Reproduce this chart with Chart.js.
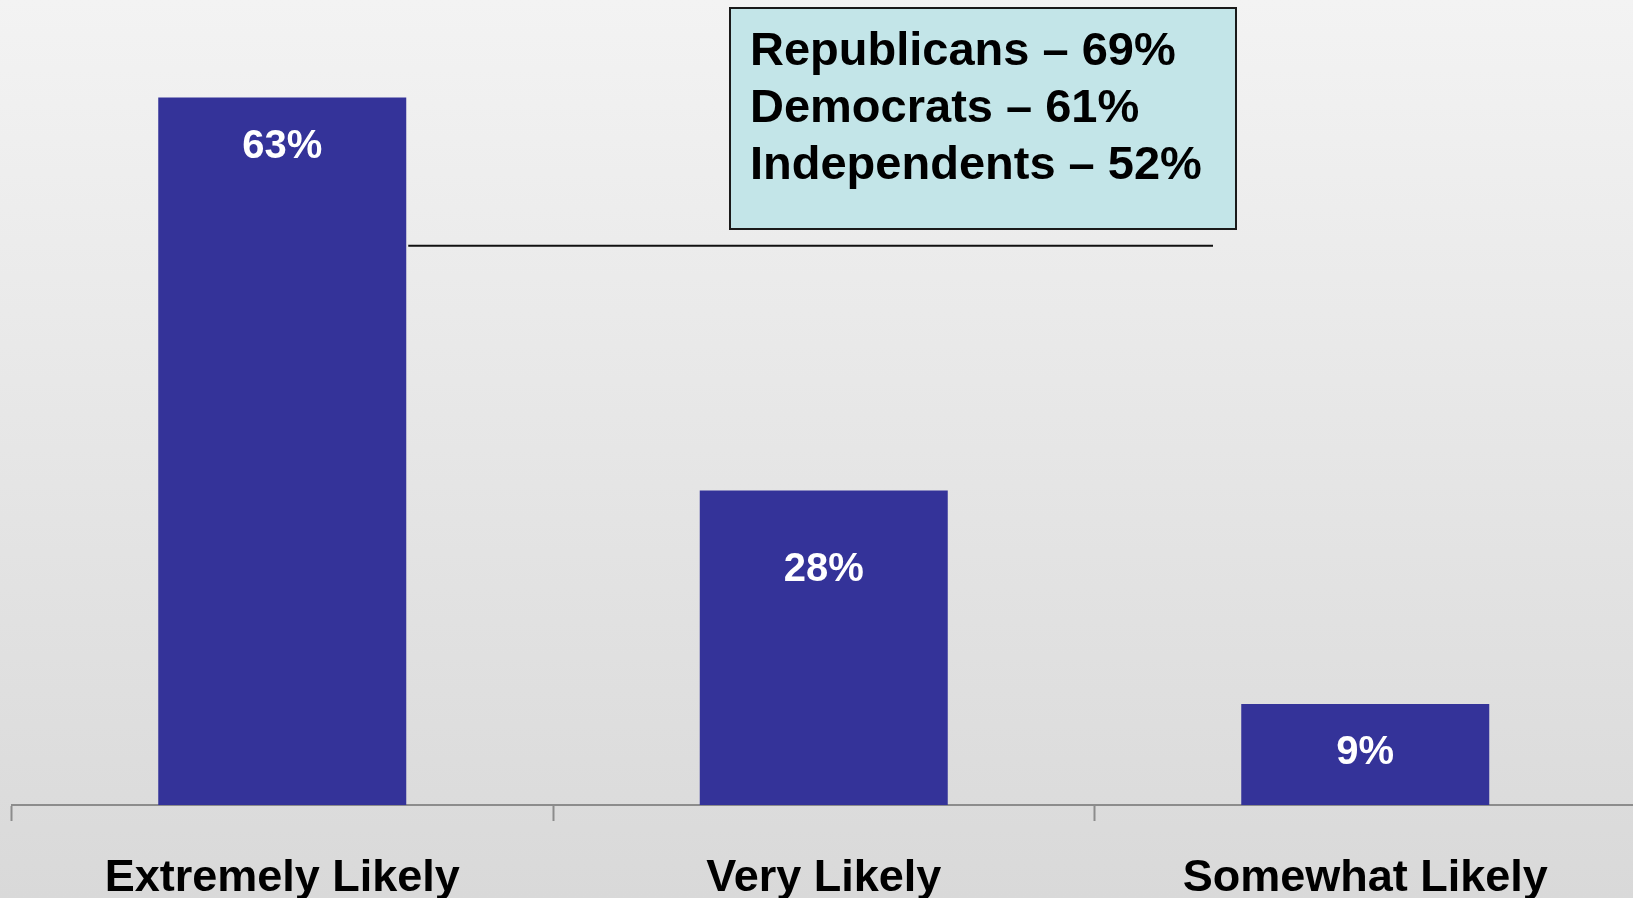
<!DOCTYPE html>
<html>
<head>
<meta charset="utf-8">
<script src="https://cdn.jsdelivr.net/npm/chart.js@4"></script>
<style>
  html, body { margin: 0; padding: 0; overflow: hidden; background: #e6e6e6; }
  #wrap { width: 1640px; height: 936px; }
</style>
</head>
<body>
<div id="wrap"><canvas id="likelyChart" width="1640" height="936"></canvas></div>
<script>
const categories = ['Extremely Likely', 'Very Likely', 'Somewhat Likely'];
const shares = [63, 28, 9];
const partyLines = ['Republicans \u2013 69%', 'Democrats \u2013 61%', 'Independents \u2013 52%'];

const barColor = '#343399';

// background: light grey fading darker toward the bottom
const backdrop = {
    id: 'backdrop',
    beforeDraw(chart) {
        const { ctx, width, height } = chart;
        const g = ctx.createLinearGradient(0, 0, 0, 898);
        g.addColorStop(0, '#f3f3f3');
        g.addColorStop(1, '#d9d9d9');
        ctx.save();
        ctx.fillStyle = g;
        ctx.fillRect(0, 0, width, height);
        ctx.restore();
    }
};

// white percentage labels inside the bars
const barLabels = {
    id: 'barLabels',
    afterDatasetsDraw(chart, args, opts) {
        const { ctx } = chart;
        const meta = chart.getDatasetMeta(0);
        ctx.save();
        ctx.fillStyle = '#ffffff';
        ctx.font = 'bold 40px "Liberation Sans", Arial, sans-serif';
        ctx.textAlign = 'center';
        ctx.textBaseline = 'middle';
        meta.data.forEach((bar, i) => {
            ctx.fillText(shares[i] + '%', bar.x, bar.y + opts.offsets[i]);
        });
        ctx.restore();
    }
};

// party breakdown box and the rule under it
const callout = {
    id: 'callout',
    afterDraw(chart) {
        const { ctx } = chart;
        const bar = chart.getDatasetMeta(0).data[0];
        const y = chart.scales.y.getPixelForValue(49.8);
        ctx.save();
        ctx.strokeStyle = '#111111';
        ctx.lineWidth = 2;
        ctx.beginPath();
        ctx.moveTo(bar.x + bar.width / 2 + 2, y);
        ctx.lineTo(1213, y);
        ctx.stroke();

        ctx.fillStyle = '#c3e5e8';
        ctx.fillRect(730, 8, 506, 221);
        ctx.lineWidth = 2;
        ctx.strokeStyle = '#1a1a1a';
        ctx.strokeRect(730, 8, 506, 221);

        ctx.fillStyle = '#000000';
        ctx.font = 'bold 47px "Liberation Sans", Arial, sans-serif';
        ctx.textAlign = 'left';
        ctx.textBaseline = 'middle';
        partyLines.forEach((t, i) => ctx.fillText(t, 750, 52 + i * 57));
        ctx.restore();
    }
};

new Chart(document.getElementById('likelyChart'), {
    type: 'bar',
    data: {
        labels: categories,
        datasets: [{
            data: shares,
            backgroundColor: barColor,
            barPercentage: 0.458,
            categoryPercentage: 1
        }]
    },
    options: {
        responsive: false,
        animation: false,
        devicePixelRatio: 1,
        layout: { padding: { top: 19, left: 11.5, right: 4, bottom: 0 } },
        scales: {
            x: {
                offset: true,
                grid: {
                    offset: true,
                    drawOnChartArea: false,
                    drawTicks: true,
                    tickLength: 16,
                    tickWidth: 2,
                    tickColor: '#8c8c8c'
                },
                border: { display: true, color: '#8c8c8c', width: 2 },
                ticks: {
                    color: '#000000',
                    padding: 30.5,
                    font: { family: '"Liberation Sans", Arial, sans-serif', size: 45, weight: 'bold' }
                }
            },
            y: {
                display: false,
                min: 0,
                max: 70
            }
        },
        plugins: {
            legend: { display: false },
            tooltip: { enabled: false },
            barLabels: { offsets: [49, 79, 49] }
        }
    },
    plugins: [backdrop, barLabels, callout]
});
</script>
</body>
</html>
